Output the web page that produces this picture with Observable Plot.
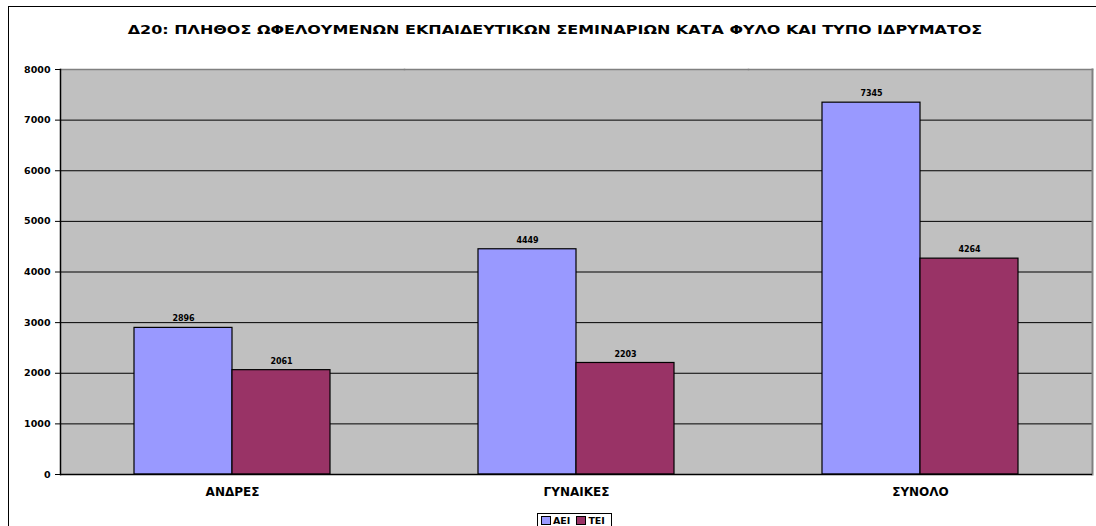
<!DOCTYPE html>
<html>
<head>
<meta charset="utf-8">
<script src="https://cdn.jsdelivr.net/npm/d3@7"></script>
<script src="https://cdn.jsdelivr.net/npm/@observablehq/plot@0.6"></script>
<style>
  html, body { margin: 0; padding: 0; background: #fff; overflow: hidden; }
  #wrap { position: relative; width: 1096px; height: 526px; font-family: "DejaVu Sans", sans-serif; }
  #border { position: absolute; left: 8px; top: 6px; width: 1200px; height: 600px; border: 1.5px solid #000; box-sizing: border-box; }
  #title { position: absolute; left: 7px; width: 1096px; top: 23px; text-align: center; font-weight: bold; font-size: 12px; color: #000; transform: scaleX(1.33); transform-origin: 548px 0; }
  #chart { position: absolute; left: 0; top: 0; }
  #legend { position: absolute; left: 537px; top: 513px; width: 75px; height: 20px; border: 1px solid #000; box-sizing: border-box; background: #fff; font-weight: bold; font-size: 9.5px; display: flex; align-items: flex-start; padding: 1px 3px 0 3px; gap: 6px; line-height: 11px; }
  .sw { display: inline-block; width: 8px; height: 7px; border: 1px solid #000; margin-right: 2px; vertical-align: -1px; }
</style>
</head>
<body>
<div id="wrap">
  <div id="border"></div>
  <div id="title"></div>
  <div id="chart"></div>
  <div id="legend"></div>
</div>
<script>
const titleText = "Δ20: ΠΛΗΘΟΣ ΩΦΕΛΟΥΜΕΝΩΝ ΕΚΠΑΙΔΕΥΤΙΚΩΝ ΣΕΜΙΝΑΡΙΩΝ ΚΑΤΑ ΦΥΛΟ ΚΑΙ ΤΥΠΟ ΙΔΡΥΜΑΤΟΣ";
const categories = ["ΑΝΔΡΕΣ", "ΓΥΝΑΙΚΕΣ", "ΣΥΝΟΛΟ"];
const series = ["ΑΕΙ", "ΤΕΙ"];
const aeiValues = [2896, 4449, 7345];
const teiValues = [2061, 2203, 4264];
const yTicks = [0, 1000, 2000, 3000, 4000, 5000, 6000, 7000, 8000];
const colors = ["#9999ff", "#993366"];

const data = [];
categories.forEach((c, i) => {
  data.push({category: c, series: series[0], value: aeiValues[i]});
  data.push({category: c, series: series[1], value: teiValues[i]});
});

document.getElementById("title").textContent = titleText;

const chart = Plot.plot({
  width: 1096,
  height: 526,
  marginTop: 69,
  marginBottom: 52,
  marginLeft: 59,
  marginRight: 4,
  style: {fontFamily: "'DejaVu Sans', sans-serif", background: "transparent", overflow: "visible"},
  fx: {domain: categories, padding: 0, label: null},
  x: {domain: series, paddingInner: 0, paddingOuter: 0.745, axis: null},
  y: {domain: [0, 8000], ticks: yTicks, label: null},
  color: {domain: series, range: colors},
  marks: [
    Plot.frame({fill: "#c0c0c0", stroke: "#c0c0c0", strokeWidth: 1}),
    Plot.ruleY(yTicks.filter(d => d > 0), {stroke: "#000", strokeWidth: 1}),
    Plot.frame({anchor: "top", stroke: "#808080", strokeWidth: 1.5}),
    Plot.frame({anchor: "right", stroke: "#808080", strokeWidth: 2, facetAnchor: "right"}),
    Plot.barY(data, {fx: "category", x: "series", y: "value", fill: "series", stroke: "#000", strokeWidth: 1.2}),
    Plot.text(data, {fx: "category", x: "series", y: "value", text: d => String(d.value), dy: -9, fontSize: 8, fontWeight: "bold", fill: "#000"}),
    Plot.ruleY([0], {stroke: "#000", strokeWidth: 1.5}),
    Plot.frame({anchor: "left", stroke: "#000", strokeWidth: 1.5, facetAnchor: "left"}),
    Plot.axisY({ticks: yTicks, tickSize: 5, tickPadding: 5, tickFormat: d => String(d), fontSize: 9.5, fontWeight: "bold", stroke: "#000", color: "#000", anchor: "left"}),
    Plot.axisFx({anchor: "bottom", tickSize: 0, tickPadding: 13, fontSize: 12, fontWeight: "bold", color: "#000", label: null, style: "letter-spacing:1.3px"})
  ]
});
document.getElementById("chart").appendChild(chart);

const legend = document.getElementById("legend");
series.forEach((s, i) => {
  const item = document.createElement("span");
  const sw = document.createElement("span");
  sw.className = "sw";
  sw.style.background = colors[i];
  item.appendChild(sw);
  item.appendChild(document.createTextNode(s));
  legend.appendChild(item);
});
</script>
</body>
</html>
